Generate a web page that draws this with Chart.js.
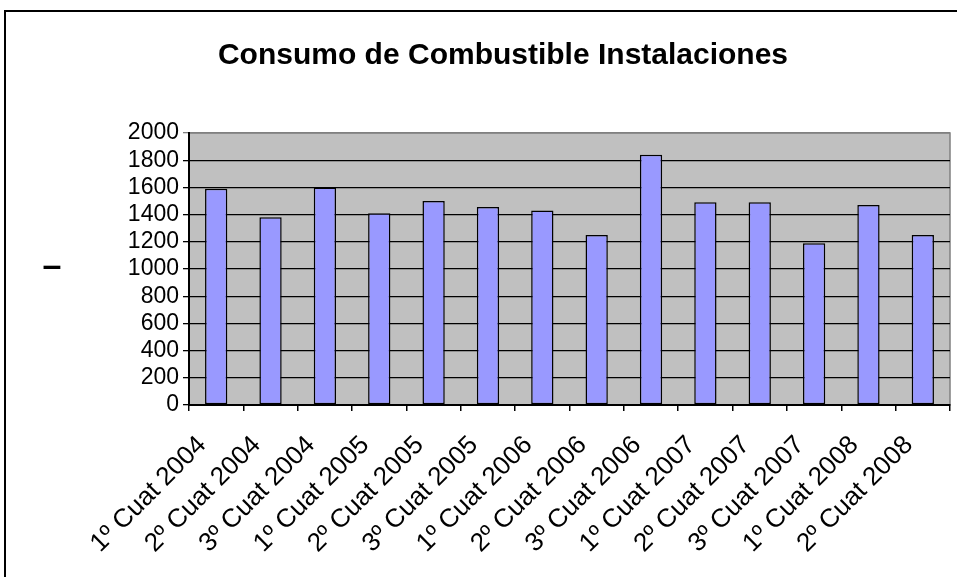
<!DOCTYPE html>
<html>
<head>
<meta charset="utf-8">
<script src="https://cdn.jsdelivr.net/npm/chart.js@4"></script>
<style>
  html, body { margin: 0; padding: 0; background: #fff; overflow: hidden; }
  #frame { position: absolute; left: 4px; top: 10px; width: 994px; height: 600px; border: 2px solid #000; }
  #chartBox { position: relative; width: 994px; height: 560px; }
</style>
</head>
<body>
<div id="frame">
  <div id="chartBox"><canvas id="fuelChart"></canvas></div>
</div>
<script>
// Periods (cuatrimestres) and fuel consumption
const periods = [
  "1º Cuat 2004", "2º Cuat 2004", "3º Cuat 2004",
  "1º Cuat 2005", "2º Cuat 2005", "3º Cuat 2005",
  "1º Cuat 2006", "2º Cuat 2006", "3º Cuat 2006",
  "1º Cuat 2007", "2º Cuat 2007", "3º Cuat 2007",
  "1º Cuat 2008", "2º Cuat 2008"
];
const consumption = [1590, 1380, 1600, 1410, 1500, 1455, 1430, 1250, 1840, 1490, 1490, 1190, 1470, 1250];
const yTicks = [0, 200, 400, 600, 800, 1000, 1200, 1400, 1600, 1800, 2000];
const chartTitle = "Consumo de Combustible Instalaciones";
const yAxisTitle = "–";

const FONT = "'Liberation Sans', Arial, sans-serif";

// grey plot background with a grey frame, plus the lone axis title on the left
const plotArea = {
  id: "plotArea",
  beforeDraw(chart) {
    const { ctx, chartArea: a } = chart;
    ctx.save();
    ctx.fillStyle = "#C0C0C0";
    ctx.fillRect(a.left, a.top, a.right - a.left, a.bottom - a.top);
    ctx.strokeStyle = "#808080";
    ctx.lineWidth = 1.5;
    ctx.strokeRect(a.left, a.top, a.right - a.left, a.bottom - a.top);
    ctx.restore();
  },
  afterDraw(chart) {
    const { ctx, chartArea: a } = chart;
    ctx.save();
    ctx.font = "bold 34px " + FONT;
    ctx.fillStyle = "#000";
    ctx.textAlign = "center";
    ctx.textBaseline = "middle";
    ctx.fillText(yAxisTitle, 46, (a.top + a.bottom) / 2 - 2);
    ctx.restore();
  }
};

const ctx = document.getElementById("fuelChart").getContext("2d");

new Chart(ctx, {
  type: "bar",
  data: {
    labels: periods,
    datasets: [
      {
        data: consumption,
        backgroundColor: "#9999FF",
        borderColor: "#000",
        borderWidth: 1.5,
        borderSkipped: false,
        barPercentage: 0.41,
        categoryPercentage: 1,
      },
    ],
  },
  options: {
    responsive: true,
    maintainAspectRatio: false,
    animation: false,
    layout: { padding: { left: 50, right: 50, top: 0, bottom: 0 } },
    plugins: {
      legend: { display: false },
      tooltip: { enabled: false },
      title: {
        display: true,
        text: chartTitle,
        color: "#000",
        font: { family: FONT, size: 30, weight: "bold" },
        padding: { top: 26, bottom: 59 },
      },
    },
    scales: {
      x: {
        grid: { drawOnChartArea: false, drawTicks: true, tickLength: 6, color: "#000", lineWidth: 1.5, offset: true },
        border: { color: "#000", width: 2 },
        ticks: {
          autoSkip: false,
          minRotation: 45,
          maxRotation: 45,
          color: "#000",
          padding: 19,
          labelOffset: -14,
          font: { family: FONT, size: 26 },
        },
        afterFit(scale) { scale.height = 167; },
      },
      y: {
        min: 0,
        max: 2000,
        afterBuildTicks(scale) { scale.ticks = yTicks.map(v => ({ value: v })); },
        grid: {
          color: (c) => (c.tick && c.tick.value === 2000 ? "#808080" : "#000"),
          lineWidth: 1.3,
          tickLength: 6,
        },
        border: { color: "#000", width: 2 },
        ticks: {
          autoSkip: false,
          color: "#000",
          padding: 4,
          font: { family: FONT, size: 23 },
          callback: (v) => String(v),
        },
        afterFit(scale) { scale.width = 133; },
      },
    },
  },
  plugins: [plotArea],
});
</script>
</body>
</html>
